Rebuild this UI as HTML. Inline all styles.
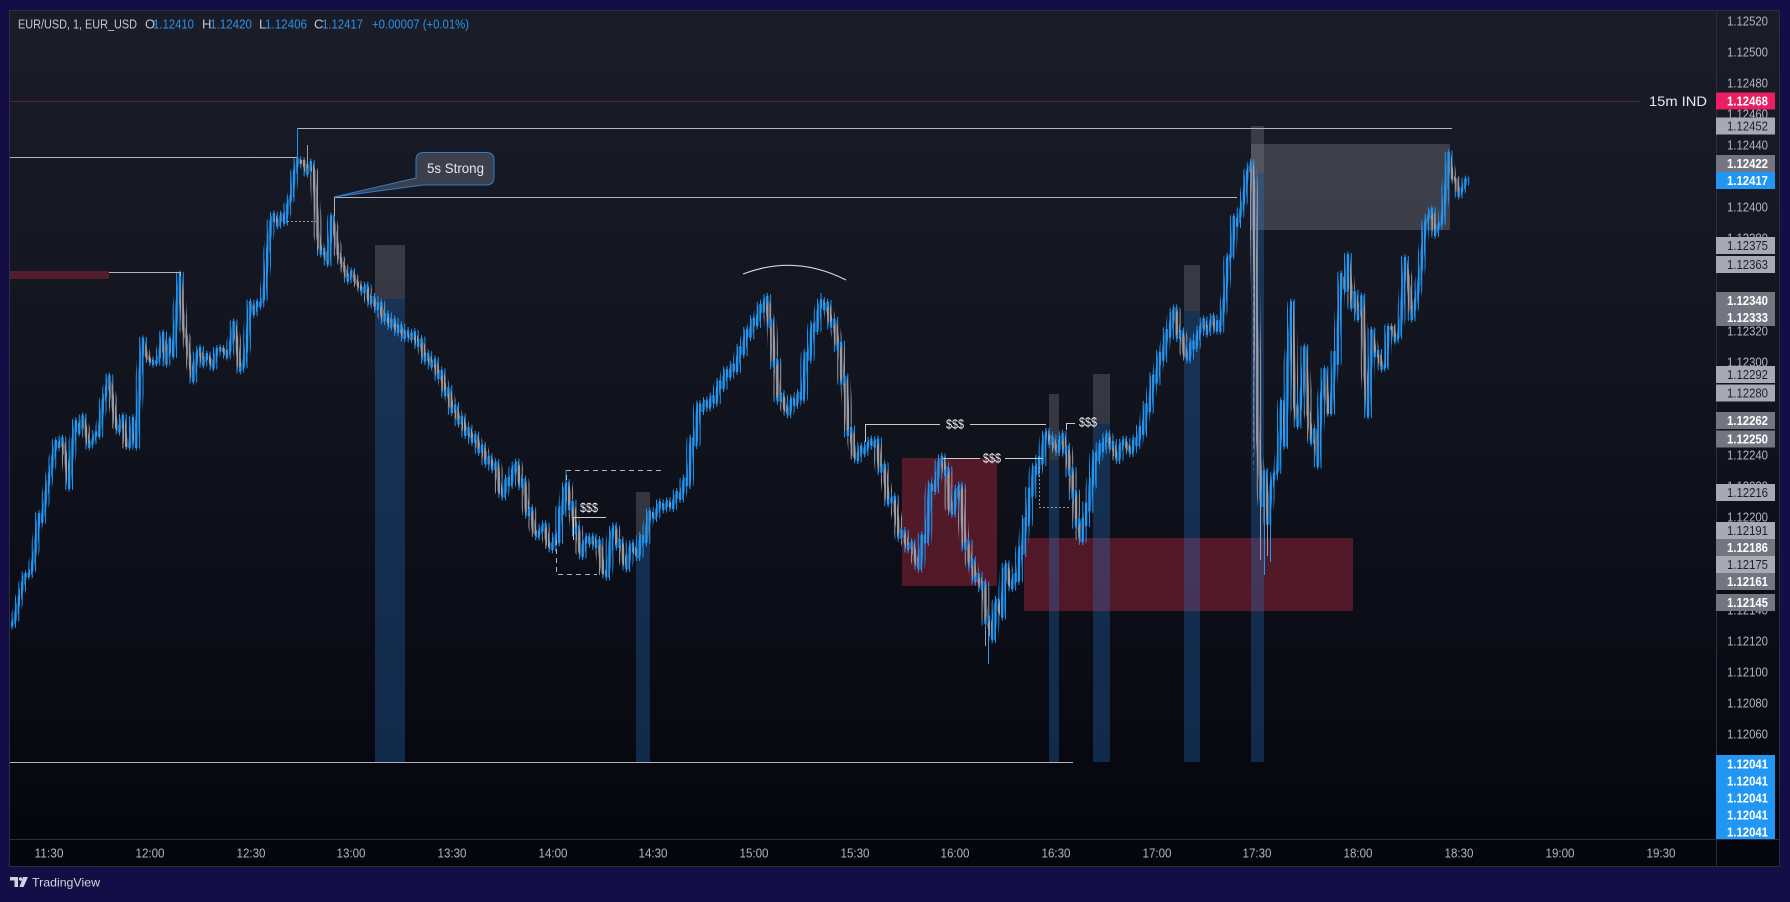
<!DOCTYPE html>
<html><head><meta charset="utf-8">
<style>
html,body{margin:0;padding:0;background:#150e46;}
svg{display:block;}
text{font-family:"Liberation Sans",sans-serif;}
</style></head>
<body>
<svg width="1790" height="902" viewBox="0 0 1790 902" xmlns="http://www.w3.org/2000/svg" xmlns:xlink="http://www.w3.org/1999/xlink">
<defs>
<linearGradient id="bg" x1="0" y1="0" x2="0" y2="1">
<stop offset="0" stop-color="#1a1d28"/>
<stop offset="0.5" stop-color="#10121c"/>
<stop offset="1" stop-color="#05050d"/>
</linearGradient>
<mask id="mb" maskUnits="userSpaceOnUse" x="0" y="0" width="1790" height="902">
<path d="M10.9 451H1480" stroke="#fff" stroke-width="902" stroke-dasharray="2.4 0.9563"/>
</mask>
<mask id="mw" maskUnits="userSpaceOnUse" x="0" y="0" width="1790" height="902">
<path d="M11.6 451H1480" stroke="#fff" stroke-width="902" stroke-dasharray="1 2.3563"/>
</mask>
<g id="blueAll">
<path d="M12 625L15 619L19 600L25 575M29 575L32 569L36 544L39 515M42 521L47 489L49 479L52 464L56 442M59 446L62 439M69 487L72 450L76 422M79 432L83 417M89 446L93 441L96 433M99 435L103 402L106 393L109 377M119 431L123 417M130 446L133 419M136 446L140 377L143 340M153 363L157 362L160 354L163 334M166 363L170 340M173 355L177 309L180 275M193 380L197 355L200 349M203 364L207 355M213 367L217 350L220 349M227 356L230 349L234 323M240 370L244 365L247 343L250 303M254 313L257 303M260 305L264 297L267 258L271 222L274 215M278 225L282 215M285 222L288 205L292 195L294 175L298 160M307 173L311 163M321 253L324 250M328 263L332 217M348 280L352 272"/>
<path d="M1200 330L1204 320M1207 333L1213 317M1216 330L1218 322M1220 330L1225 297L1228 258L1232 255L1234 218M1237 225L1242 207L1244 198L1247 173L1252 163M1262 505L1265 472M1268 523L1271 488L1274 475L1278 470L1282 402M1285 445L1288 363L1292 303M1298 425L1302 390L1305 348M1312 442L1315 430M1318 465L1321 402L1325 370M1331 412L1335 353M1337 363L1341 275M1346 290L1348 256M1352 307L1355 293M1358 318L1362 297M1368 415L1372 331M1375 355L1378 352M1382 368L1386 366L1388 328M1395 340L1399 335L1402 310L1405 259M1412 318L1415 305L1419 284L1422 259L1425 224L1429 216L1432 210M1435 234L1439 225L1442 222L1446 187L1449 154M1459 195L1463 188L1466 180"/>
<path transform="scale(1.1416 1.1418)" d="M318 255L321 251M324 265L327 261M330 270L333 266M336 280L339 276M342 285L345 281M348 290L351 286M354 295L357 291M360 296L363 292M366 302L369 298M372 315L375 311M378 320L381 316M384 330L387 326M390 345L393 341M396 360L399 356M402 370L405 366M408 380L411 376M414 386L417 382M420 395L423 391M426 405L429 401M432 410L435 406M441 434L444 420M447 424L450 410M450 410L453 406M456 425L459 421M462 450L465 446M471 469L474 464M474 464L477 460M483.5 480L487 470M489 474L491 445M493 449L495 428M495 428L497 424M499 445L501.5 441M504 466L506 462M510 486L512 475M512 475L514.5 471M517 475L519.5 471M522 478L525 474M532 504L536 466M536 466L538.5 462M541 478L544 474M549.5 497L552 481M552 481L554 477M559 487L562 470M565.5 474L569 449M573.5 453L578 441M581.5 445L585 440M589 444L593 432M596.5 436L600 420M603 424L606 385M609 389L612 355M615 359L618 352M621 356L624 348M627 352L630 335M633 339L636 325M639 329L642 320M645 324L648 305M651 309L654 290M657 294L660 280M663 284L666 268M668 272L670 265M670 265L672 261M674 285L676 281M678 320L680 316M682 350L685 346M691 362L694 350M697 354L700 345M703 349L706 310M709 314L712 285M715 289L718 268M718 268L720 264M722 270L725 266M728 285L731 281M734 305L736 301M738 335L740.5 331M743 380L745.5 376M751 402L754 392M757 396L760 390M760 390L763 386M766 390L768.5 386M771 412L774.5 408M778 440L783 436M788 470L791.5 466M795 480L799 476M805.5 497L808 470M811.5 474L815 425M819 429L823 405M823 405L825.5 401M828 415L830 411M835 449L838 430M838 430L841.5 426M845 479L847.5 475M850 495L852 491M854 508L857 504M860 515L862 511M864 545L866 541M870 559L872 530M872 530L874 526M878 539L880 499M880 499L882 495M886.5 514L889 504M891.5 508L894 480M896 484L898 455M900 459L902 429M904 433L906 410M908.5 414L911 401M913 405L915 383M915 383L917.5 379M920 388L922 384M926.5 395L929 385M929 385L931 381M933 396L935 392M937 415L938.5 411M940 435L941.5 431M943 460L944.5 456M947.5 473L949 455M950.5 459L952 442M954 446L956 420M957.5 424L959 398M961.5 402L964 390M966 394L968 385M968 385L970.5 381M973 392L975 388M979.5 402L982 390M982 390L985 386M991 396L994 385M996.5 389L999 375M1001.5 379L1004 355M1007 359L1010 330M1013 334L1016 310M1019 314L1022 290M1024.5 294L1027 275M1027 275L1029.5 271M1032 295L1035 291M1041 314L1044 300M1047 304L1050 292"/>
</g>
<g id="greyAll">
<path d="M25 575L29 575M39 515L42 521M56 442L59 446M62 439L66 458L69 487M76 422L79 432M83 417L89 446M96 433L99 435M109 377L113 403L116 425L119 431M123 417L126 445L130 446M133 419L136 446M143 340L146 355L150 360L153 363M163 334L166 363M170 340L173 355M180 275L183 325L187 341L190 361L193 380M200 349L203 364M207 355L210 360L213 367M220 349L224 350L227 356M234 323L237 344L240 370M250 303L254 313M257 303L260 305M274 215L278 225M282 215L285 222M298 160L301 162L304 162L307 173M311 163L314 173L318 235L321 253M324 250L328 263M332 217L335 233L338 253L342 263L345 270L348 280M352 272L355 280L363 291"/>
<path d="M1198.7 333L1200 330M1204 320L1207 333M1213 317L1216 330M1218 322L1220 330M1234 218L1237 225M1252 163L1254 200L1258 440L1262 505M1265 472L1268 523M1282 402L1285 445M1292 303L1294 400L1298 425M1305 348L1308 410L1312 442M1315 430L1318 465M1325 370L1328 412L1331 412M1335 353L1337 363M1341 275L1346 290M1348 256L1352 307M1355 293L1358 318M1362 297L1365 368L1368 415M1372 331L1375 355M1378 352L1382 368M1388 328L1393 328L1395 340M1405 259L1409 287L1412 318M1432 210L1435 234M1449 154L1452 177L1456 180L1459 195"/>
<path transform="scale(1.1416 1.1418)" d="M321 251L324 265M327 261L330 270M333 266L336 280M339 276L342 285M345 281L348 290M351 286L354 295M357 291L360 296M363 292L366 302M369 298L372 315M375 311L378 320M381 316L384 330M387 326L390 345M393 341L396 360M399 356L402 370M405 366L408 380M411 376L414 386M417 382L420 395M423 391L426 405M429 401L432 410M435 406L438 430M438 430L441 434M444 420L447 424M453 406L456 425M459 421L462 450M465 446L468 465M468 465L471 469M477 460L480 476M480 476L483.5 480M487 470L489 474M491 445L493 449M497 424L499 445M501.5 441L504 466M506 462L508 482M508 482L510 486M514.5 471L517 475M519.5 471L522 478M525 474L528 500M528 500L532 504M538.5 462L541 478M544 474L547 493M547 493L549.5 497M554 477L556 483M556 483L559 487M562 470L565.5 474M569 449L573.5 453M578 441L581.5 445M585 440L589 444M593 432L596.5 436M600 420L603 424M606 385L609 389M612 355L615 359M618 352L621 356M624 348L627 352M630 335L633 339M636 325L639 329M642 320L645 324M648 305L651 309M654 290L657 294M660 280L663 284M666 268L668 272M672 261L674 285M676 281L678 320M680 316L682 350M685 346L688 358M688 358L691 362M694 350L697 354M700 345L703 349M706 310L709 314M712 285L715 289M720 264L722 270M725 266L728 285M731 281L734 305M736 301L738 335M740.5 331L743 380M745.5 376L748 398M748 398L751 402M754 392L757 396M763 386L766 390M768.5 386L771 412M774.5 408L778 440M783 436L788 470M791.5 466L795 480M799 476L803 493M803 493L805.5 497M808 470L811.5 474M815 425L819 429M825.5 401L828 415M830 411L832 445M832 445L835 449M841.5 426L845 479M847.5 475L850 495M852 491L854 508M857 504L860 515M862 511L864 545M866 541L868 555M868 555L870 559M874 526L876 535M876 535L878 539M882 495L884 510M884 510L886.5 514M889 504L891.5 508M894 480L896 484M898 455L900 459M902 429L904 433M906 410L908.5 414M911 401L913 405M917.5 379L920 388M922 384L924 391M924 391L926.5 395M931 381L933 396M935 392L937 415M938.5 411L940 435M941.5 431L943 460M944.5 456L946 469M946 469L947.5 473M949 455L950.5 459M952 442L954 446M956 420L957.5 424M959 398L961.5 402M964 390L966 394M970.5 381L973 392M975 388L977 398M977 398L979.5 402M985 386L988 392M988 392L991 396M994 385L996.5 389M999 375L1001.5 379M1004 355L1007 359M1010 330L1013 334M1016 310L1019 314M1022 290L1024.5 294M1029.5 271L1032 295M1035 291L1038 310M1038 310L1041 314M1044 300L1047 304"/>
</g>
</defs>
<rect width="1790" height="902" fill="#150e46"/>
<rect x="9.5" y="10.5" width="1770" height="856" fill="url(#bg)" stroke="#2b2f3b"/>

<!-- zones -->
<rect x="10" y="271" width="99" height="8" fill="#521d2c"/>
<rect x="902" y="458" width="95" height="128" fill="rgba(150,35,55,0.5)"/>
<rect x="1024" y="538" width="329" height="73" fill="rgba(150,35,55,0.5)"/>
<rect x="1251" y="144" width="199" height="86" fill="rgba(120,123,134,0.4)"/>

<!-- vertical shaded bars -->
<g>
<rect x="375" y="245" width="30" height="54" fill="rgba(120,123,134,0.35)"/>
<rect x="375" y="299" width="30" height="463" fill="rgba(40,120,210,0.3)"/>
<rect x="636" y="492" width="14" height="46" fill="rgba(120,123,134,0.35)"/>
<rect x="636" y="538" width="14" height="224" fill="rgba(40,120,210,0.3)"/>
<rect x="1049" y="394" width="10" height="66" fill="rgba(120,123,134,0.35)"/>
<rect x="1049" y="460" width="10" height="302" fill="rgba(40,120,210,0.3)"/>
<rect x="1093" y="374" width="17" height="50" fill="rgba(120,123,134,0.35)"/>
<rect x="1093" y="424" width="17" height="338" fill="rgba(40,120,210,0.3)"/>
<rect x="1184" y="265" width="16" height="46" fill="rgba(120,123,134,0.35)"/>
<rect x="1184" y="311" width="16" height="451" fill="rgba(40,120,210,0.3)"/>
<rect x="1251" y="126" width="13" height="47" fill="rgba(120,123,134,0.35)"/>
<rect x="1251" y="173" width="13" height="589" fill="rgba(40,120,210,0.3)"/>
</g>

<!-- candles -->
<g fill="none" stroke-linecap="round" stroke-linejoin="round">
<g mask="url(#mw)" stroke-width="9">
<use href="#greyAll" xlink:href="#greyAll" stroke="#9a9da6"/>
<use href="#blueAll" xlink:href="#blueAll" stroke="#2196f3"/>
</g>
<g mask="url(#mb)" stroke-width="4">
<use href="#greyAll" xlink:href="#greyAll" stroke="#9a9da6"/>
<use href="#blueAll" xlink:href="#blueAll" stroke="#2196f3"/>
</g>
</g>
<!-- extra wicks -->
<g stroke-width="1" fill="none">
<path d="M307.5 145V168M1260.5 440V560M1267.5 500V556M985.5 630V646" stroke="#9a9da6"/>
<path d="M334.5 200V217M566 470V490M821 293V310M1264.5 470V575M1270.5 480V562M988.5 630V664" stroke="#2196f3"/>
</g>

<!-- 15m IND -->
<path d="M10 101.5H1640" stroke="#5d1f38" stroke-width="1"/>
<text x="1649" y="106" font-size="14" fill="#e6e8ee" textLength="58" lengthAdjust="spacingAndGlyphs">15m IND</text>

<!-- lines -->
<g stroke="#b2b5be" stroke-width="1" fill="none">
<path d="M297 128.5H1452"/>
<path d="M10 157.5H297"/>
<path d="M334 197.5H1237"/>
<path d="M334.5 197V216"/>
<path d="M109 272.5H180.5V276"/>
<path d="M10 762.5H1073"/>
</g>
<path d="M297.5 128V160" stroke="#2196f3" stroke-width="1"/>
<path d="M287 221.5H316" stroke="#9598a1" stroke-width="1" stroke-dasharray="2,2"/>

<!-- dashed rect -->
<g stroke="#b2b5be" stroke-width="1" fill="none" stroke-dasharray="5,4">
<path d="M566.5 480V470.5H662"/>
<path d="M556.5 540V574.5H597"/>
</g>

<!-- $$$ markers -->
<g stroke="#c8cad0" stroke-width="1" fill="none">
<path d="M573.5 540V517.5H606"/>
<path d="M865.5 442V424.5H940M970 424.5H1046"/>
<path d="M943 458.5H980M1005 458.5H1043"/>
<path d="M1066.5 430V423.5H1075"/>
</g>
<g font-size="13" fill="#eceef2" text-anchor="middle">
<text x="589" y="512" textLength="18" lengthAdjust="spacingAndGlyphs">$$$</text>
<text x="955" y="428.5" textLength="18" lengthAdjust="spacingAndGlyphs">$$$</text>
<text x="992" y="462.5" textLength="18" lengthAdjust="spacingAndGlyphs">$$$</text>
<text x="1088" y="426.5" textLength="18" lengthAdjust="spacingAndGlyphs">$$$</text>
</g>
<path d="M1039.5 467V507.5H1071" stroke="#9598a1" stroke-width="1" fill="none" stroke-dasharray="2,2"/>
<path d="M1253.5 173V470" stroke="rgba(178,181,190,0.4)" stroke-width="1" stroke-dasharray="4,4"/>

<!-- arc -->
<path d="M743 274Q795 254 846 280" stroke="#d1d4dc" stroke-width="1.2" fill="none"/>

<!-- callout -->
<path d="M416 160Q416 152.5 424 152.5H486Q494 152.5 494 160V177Q494 185 486 185H423L334 197L416 178Z" fill="#3d404b" stroke="#2a7fd4" stroke-width="1"/>
<text x="427" y="173" font-size="14" fill="#e6e8ee" textLength="57" lengthAdjust="spacingAndGlyphs">5s Strong</text>

<!-- axes separators -->
<path d="M1716.5 10V867" stroke="#2b2f3b" stroke-width="1"/>
<path d="M10 839.5H1780" stroke="#2b2f3b" stroke-width="1"/>

<!-- price ticks -->
<g font-size="13" fill="#b2b5be">
<text x="1727" y="25.5" textLength="41" lengthAdjust="spacingAndGlyphs">1.12520</text>
<text x="1727" y="56.5" textLength="41" lengthAdjust="spacingAndGlyphs">1.12500</text>
<text x="1727" y="87.5" textLength="41" lengthAdjust="spacingAndGlyphs">1.12480</text>
<text x="1727" y="118.5" textLength="41" lengthAdjust="spacingAndGlyphs">1.12460</text>
<text x="1727" y="149.5" textLength="41" lengthAdjust="spacingAndGlyphs">1.12440</text>
<text x="1727" y="211.5" textLength="41" lengthAdjust="spacingAndGlyphs">1.12400</text>
<text x="1727" y="242.5" textLength="41" lengthAdjust="spacingAndGlyphs">1.12380</text>
<text x="1727" y="335.5" textLength="41" lengthAdjust="spacingAndGlyphs">1.12320</text>
<text x="1727" y="366.5" textLength="41" lengthAdjust="spacingAndGlyphs">1.12300</text>
<text x="1727" y="459.5" textLength="41" lengthAdjust="spacingAndGlyphs">1.12240</text>
<text x="1727" y="490.5" textLength="41" lengthAdjust="spacingAndGlyphs">1.12220</text>
<text x="1727" y="521.5" textLength="41" lengthAdjust="spacingAndGlyphs">1.12200</text>
<text x="1727" y="614.5" textLength="41" lengthAdjust="spacingAndGlyphs">1.12140</text>
<text x="1727" y="645.5" textLength="41" lengthAdjust="spacingAndGlyphs">1.12120</text>
<text x="1727" y="676.5" textLength="41" lengthAdjust="spacingAndGlyphs">1.12100</text>
<text x="1727" y="707.5" textLength="41" lengthAdjust="spacingAndGlyphs">1.12080</text>
<text x="1727" y="738.5" textLength="41" lengthAdjust="spacingAndGlyphs">1.12060</text>
</g>

<!-- price label boxes -->
<g>
<rect x="1716" y="92.5" width="59" height="17" fill="#e91e63"/>
<rect x="1716" y="117.5" width="59" height="17" fill="#a7aab3"/>
<rect x="1716" y="155" width="59" height="17" fill="#737681"/>
<rect x="1716" y="172" width="59" height="17" fill="#2196f3"/>
<rect x="1716" y="237" width="59" height="17" fill="#a7aab3"/>
<rect x="1716" y="256" width="59" height="17" fill="#a7aab3"/>
<rect x="1716" y="292" width="59" height="17" fill="#737681"/>
<rect x="1716" y="309" width="59" height="17" fill="#737681"/>
<rect x="1716" y="366" width="59" height="17" fill="#a7aab3"/>
<rect x="1716" y="384.5" width="59" height="17" fill="#a7aab3"/>
<rect x="1716" y="412" width="59" height="17" fill="#737681"/>
<rect x="1716" y="430.5" width="59" height="17" fill="#737681"/>
<rect x="1716" y="484" width="59" height="17" fill="#a7aab3"/>
<rect x="1716" y="522" width="59" height="17" fill="#a7aab3"/>
<rect x="1716" y="539" width="59" height="17" fill="#737681"/>
<rect x="1716" y="556" width="59" height="17" fill="#a7aab3"/>
<rect x="1716" y="573" width="59" height="17" fill="#737681"/>
<rect x="1716" y="594" width="59" height="17" fill="#737681"/>
<rect x="1716" y="755" width="59" height="84" fill="#2196f3"/>
</g>
<g font-size="13" font-weight="bold" fill="#ffffff">
<text x="1727" y="105.5" textLength="41" lengthAdjust="spacingAndGlyphs">1.12468</text>
<text x="1727" y="168" textLength="41" lengthAdjust="spacingAndGlyphs">1.12422</text>
<text x="1727" y="185" textLength="41" lengthAdjust="spacingAndGlyphs">1.12417</text>
<text x="1727" y="305" textLength="41" lengthAdjust="spacingAndGlyphs">1.12340</text>
<text x="1727" y="322" textLength="41" lengthAdjust="spacingAndGlyphs">1.12333</text>
<text x="1727" y="425" textLength="41" lengthAdjust="spacingAndGlyphs">1.12262</text>
<text x="1727" y="443.5" textLength="41" lengthAdjust="spacingAndGlyphs">1.12250</text>
<text x="1727" y="552" textLength="41" lengthAdjust="spacingAndGlyphs">1.12186</text>
<text x="1727" y="586" textLength="41" lengthAdjust="spacingAndGlyphs">1.12161</text>
<text x="1727" y="607" textLength="41" lengthAdjust="spacingAndGlyphs">1.12145</text>
<text x="1727" y="768.5" textLength="41" lengthAdjust="spacingAndGlyphs">1.12041</text>
<text x="1727" y="785.5" textLength="41" lengthAdjust="spacingAndGlyphs">1.12041</text>
<text x="1727" y="802.5" textLength="41" lengthAdjust="spacingAndGlyphs">1.12041</text>
<text x="1727" y="819.5" textLength="41" lengthAdjust="spacingAndGlyphs">1.12041</text>
<text x="1727" y="836.5" textLength="41" lengthAdjust="spacingAndGlyphs">1.12041</text>
</g>
<g font-size="13" fill="#1e222d">
<text x="1727" y="130.5" textLength="41" lengthAdjust="spacingAndGlyphs">1.12452</text>
<text x="1727" y="250" textLength="41" lengthAdjust="spacingAndGlyphs">1.12375</text>
<text x="1727" y="269" textLength="41" lengthAdjust="spacingAndGlyphs">1.12363</text>
<text x="1727" y="379" textLength="41" lengthAdjust="spacingAndGlyphs">1.12292</text>
<text x="1727" y="397.5" textLength="41" lengthAdjust="spacingAndGlyphs">1.12280</text>
<text x="1727" y="497" textLength="41" lengthAdjust="spacingAndGlyphs">1.12216</text>
<text x="1727" y="535" textLength="41" lengthAdjust="spacingAndGlyphs">1.12191</text>
<text x="1727" y="569" textLength="41" lengthAdjust="spacingAndGlyphs">1.12175</text>
</g>

<!-- time axis -->
<g font-size="13" fill="#b2b5be" text-anchor="middle">
<text x="49" y="857.5" textLength="29" lengthAdjust="spacingAndGlyphs">11:30</text>
<text x="150" y="857.5" textLength="29" lengthAdjust="spacingAndGlyphs">12:00</text>
<text x="251" y="857.5" textLength="29" lengthAdjust="spacingAndGlyphs">12:30</text>
<text x="351" y="857.5" textLength="29" lengthAdjust="spacingAndGlyphs">13:00</text>
<text x="452" y="857.5" textLength="29" lengthAdjust="spacingAndGlyphs">13:30</text>
<text x="553" y="857.5" textLength="29" lengthAdjust="spacingAndGlyphs">14:00</text>
<text x="653" y="857.5" textLength="29" lengthAdjust="spacingAndGlyphs">14:30</text>
<text x="754" y="857.5" textLength="29" lengthAdjust="spacingAndGlyphs">15:00</text>
<text x="855" y="857.5" textLength="29" lengthAdjust="spacingAndGlyphs">15:30</text>
<text x="955" y="857.5" textLength="29" lengthAdjust="spacingAndGlyphs">16:00</text>
<text x="1056" y="857.5" textLength="29" lengthAdjust="spacingAndGlyphs">16:30</text>
<text x="1157" y="857.5" textLength="29" lengthAdjust="spacingAndGlyphs">17:00</text>
<text x="1257" y="857.5" textLength="29" lengthAdjust="spacingAndGlyphs">17:30</text>
<text x="1358" y="857.5" textLength="29" lengthAdjust="spacingAndGlyphs">18:00</text>
<text x="1459" y="857.5" textLength="29" lengthAdjust="spacingAndGlyphs">18:30</text>
<text x="1560" y="857.5" textLength="29" lengthAdjust="spacingAndGlyphs">19:00</text>
<text x="1661" y="857.5" textLength="29" lengthAdjust="spacingAndGlyphs">19:30</text>
</g>

<!-- header -->
<g font-size="13">
<text x="18" y="28.5" fill="#c3c6ce" textLength="119" lengthAdjust="spacingAndGlyphs">EUR/USD, 1, EUR_USD</text>
<text x="145" y="28.5" fill="#c3c6ce">O</text>
<text x="153" y="28.5" fill="#2a92e8" textLength="41" lengthAdjust="spacingAndGlyphs">1.12410</text>
<text x="202" y="28.5" fill="#c3c6ce">H</text>
<text x="210" y="28.5" fill="#2a92e8" textLength="42" lengthAdjust="spacingAndGlyphs">1.12420</text>
<text x="259" y="28.5" fill="#c3c6ce">L</text>
<text x="265" y="28.5" fill="#2a92e8" textLength="42" lengthAdjust="spacingAndGlyphs">1.12406</text>
<text x="314" y="28.5" fill="#c3c6ce">C</text>
<text x="322" y="28.5" fill="#2a92e8" textLength="41" lengthAdjust="spacingAndGlyphs">1.12417</text>
<text x="372" y="28.5" fill="#2a92e8" textLength="97" lengthAdjust="spacingAndGlyphs">+0.00007 (+0.01%)</text>
</g>

<!-- logo -->
<g fill="#d1d4dc">
<path d="M10 877h8v10h-3.5v-6.5H10z"/>
<circle cx="20.5" cy="879" r="1.7"/>
<path d="M23 877h5l-4.5 10h-4z"/>
<text x="32" y="886.5" font-size="12" textLength="68" lengthAdjust="spacingAndGlyphs">TradingView</text>
</g>
</svg>
</body></html>
